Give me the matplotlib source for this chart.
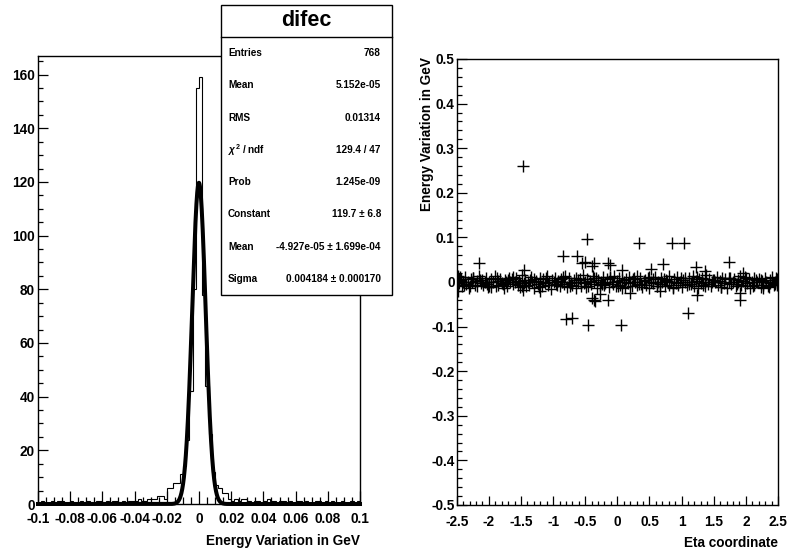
import numpy as np
import matplotlib
matplotlib.use("Agg")
import matplotlib.pyplot as plt
from matplotlib.ticker import MultipleLocator, AutoMinorLocator, FuncFormatter
from matplotlib.patches import Rectangle
from matplotlib.lines import Line2D

plt.rcParams['font.family'] = ['Liberation Sans', 'DejaVu Sans']
plt.rcParams['mathtext.fontset'] = 'custom'
plt.rcParams['mathtext.rm'] = 'Liberation Sans:bold'
plt.rcParams['mathtext.it'] = 'Liberation Sans:italic:bold'

# ---- histogram "difec": 100 bins on [-0.1, 0.1] ----
hist_xmin, hist_xmax = -0.1, 0.1
hist_counts = [
    0, 1, 0, 0, 1, 0, 1, 1, 0, 0,
    1, 0, 0, 1, 0, 1, 0, 0, 1, 1,
    0, 1, 0, 1, 1, 0, 1, 0, 1, 1,
    1, 2, 1, 1, 2, 2, 2, 3, 3, 2,
    6, 6, 8, 8, 11, 14, 24, 42, 80, 155,
    159, 78, 44, 26, 12, 7, 6, 4, 4, 2,
    1, 2, 1, 2, 2, 1, 0, 1, 1, 0,
    1, 2, 1, 1, 0, 1, 1, 0, 1, 0,
    1, 1, 0, 1, 0, 0, 1, 1, 0, 1,
    0, 1, 0, 0, 1, 0, 0, 1, 0, 1,
]

# gaussian fit parameters
fit_constant = 119.7
fit_mean = -4.927e-05
fit_sigma = 0.004184

stat_title = "difec"
stat_labels = ["Entries", "Mean", "RMS", r"$\chi^{2}$ / ndf", "Prob",
               "Constant", "Mean", "Sigma"]
stat_values = ["768", "5.152e-05", "0.01314", "129.4 / 47", "1.245e-09",
               "119.7 \u00b1 6.8", "-4.927e-05 \u00b1 1.699e-04",
               "0.004184 \u00b1 0.000170"]

# ---- energy variation vs eta: core band (eta in 1/100, dE in MeV) ----
band_eta = [
    -248, -246, -243, -241, -240, -237, -235, -232, -231, -228,
    -226, -224, -221, -219, -218, -215, -212, -211, -209, -206,
    -204, -203, -200, -197, -196, -193, -191, -189, -186, -185,
    -182, -180, -177, -175, -174, -171, -168, -167, -164, -162,
    -160, -158, -155, -153, -151, -149, -146, -144, -142, -139,
    -138, -135, -133, -130, -129, -126, -124, -121, -120, -117,
    -115, -112, -110, -108, -106, -103, -101, -99, -97, -94,
    -93, -90, -87, -86, -83, -81, -79, -76, -75, -72,
    -70, -67, -65, -64, -61, -58, -57, -54, -52, -50,
    -47, -45, -43, -41, -38, -36, -34, -31, -30, -27,
    -25, -22, -20, -19, -16, -13, -12, -9, -7, -5,
    -2, 0, 2, 4, 7, 8, 11, 13, 16, 18,
    20, 23, 24, 27, 30, 31, 34, 36, 38, 41,
    43, 45, 48, 49, 52, 55, 56, 59, 61, 63,
    66, 68, 70, 73, 74, 77, 80, 81, 84, 86,
    88, 91, 93, 95, 97, 100, 102, 105, 106, 109,
    111, 114, 116, 118, 120, 123, 125, 127, 130, 131,
    134, 137, 138, 141, 143, 145, 148, 150, 152, 155,
    156, 159, 162, 163, 166, 168, 170, 173, 175, 177,
    180, 181, 184, 187, 188, 191, 193, 195, 198, 200,
    202, 205, 206, 209, 212, 213, 216, 218, 220, 223,
    225, 227, 230, 231, 234, 237, 238, 241, 243, 245,
    246, 248, 249, 250, -247, -239, -225, -199, -170, -152,
    -245, -229, -214, -201, -188, -178, -163, -148, -136, -122,
    -111, -96, -84, -73, -62, -49, -37, -24, -11, 1,
    12, 26, 37, 50, 62, 75, 87, 99, 112, 124,
    136, 149, 161, 174, 186, 199, 211, 224, 236, 247,
]
band_de = [
    4, -3, 7, -9, 1, 12, -4, 0, -13, 6,
    -1, 9, -6, 3, -10, 14, -3, 4, -7, 1,
    10, -4, 0, -12, 6, -1, 13, -9, 3, -6,
    7, -3, -14, 4, 1, -9, 10, -1, 6, -4,
    0, 9, -7, 3, -12, 15, -3, 4, -9, 1,
    -6, 12, -1, 7, -13, 3, -4, 9, 0, -10,
    6, -3, 13, -7, 1, -15, 4, -1, 10, -6,
    3, -9, 7, 0, -4, 14, -12, 1, 9, -3,
    -7, 4, -13, 10, -1, 6, -9, 16, -3, 0,
    7, -10, 3, -4, 13, -1, 9, -14, 4, -6,
    1, 12, -7, -3, 6, -12, 9, 0, -4, 14,
    -9, 3, 10, -6, -13, 4, 0, 7, -3, 12,
    -1, -10, 6, 1, -7, 13, -4, 9, -12, 3,
    4, -6, 10, -14, 0, 7, -3, 12, -9, 1,
    -4, 9, -1, 6, -10, 3, 14, -6, 0, -13,
    7, -3, 12, -7, 1, -12, 4, 10, -1, -6,
    9, -4, 0, 13, -9, 3, -13, 6, -3, 10,
    -7, 1, 15, -4, 7, -10, 0, 4, -1, 12,
    -6, 3, -12, 9, -3, 6, -14, 1, 10, -4,
    0, 7, -9, 4, -1, 13, -6, 3, -10, 9,
    -3, 6, -13, 1, 10, -7, 4, -1, 7, -12,
    3, -6, 9, 0, -9, 4, -3, 12, -7, 1,
    -4, 6, -1, 3, 7, -6, 9, -10, 4, -3,
    11, -8, 5, -11, 8, -5, 11, -8, 5, -11,
    8, -5, 11, -8, 5, -11, 8, -5, 11, -8,
    -11, 8, -5, 11, -8, 5, -11, 8, -5, 11,
    -8, 5, -11, 8, -5, 11, -8, 5, -11, 8,
]

# isolated entries away from the band (eta, GeV)
outlier_eta = [-1.47, -0.47, -2.15, -0.84, -0.63, -0.555, -0.50, -0.40,
               -2.475, -0.80, -0.70, -0.45, -0.40, -0.35, -1.45, -2.475,
               -1.20, -1.47, 0.34, 0.855, 1.03, 1.73, 0.71, 0.53,
               1.22, -0.14, -0.37, -0.11, 0.07, -0.36, -0.14, -0.27,
               0.20, 0.67, 1.245, 1.105, 0.05, 1.91, 1.91, 1.36,
               1.95, 2.27, 2.49]
outlier_de = [0.261, 0.097, 0.043, 0.058, 0.059, 0.043, 0.044, 0.035,
              -0.021, -0.082, -0.080, -0.097, -0.035, -0.043, 0.028, 0.013,
              -0.021, -0.017, 0.088, 0.088, 0.088, 0.045, 0.041, 0.030,
              0.033, 0.043, 0.043, 0.037, 0.028, -0.041, -0.041, -0.026,
              -0.024, -0.021, -0.029, -0.069, -0.097, -0.041, -0.024, 0.024,
              0.021, -0.013, -0.006]

W, H = 789, 551
fig = plt.figure(figsize=(W / 100, H / 100), dpi=100)


def px_rect(x0, y0, x1, y1):
    return [x0 / W, 1 - y1 / H, (x1 - x0) / W, (y1 - y0) / H]


def root_fmt(v, pos):
    if abs(v) < 1e-12:
        return "0"
    return "%g" % round(v, 6)


tick_font = dict(fontsize=9.8, fontweight="bold")

# ---------------- left pad: histogram + fit ----------------
ax1 = fig.add_axes(px_rect(38, 56, 360, 504))
edges = np.linspace(hist_xmin, hist_xmax, len(hist_counts) + 1)
ax1.stairs(hist_counts, edges, color="black", lw=0.8)
xf = np.linspace(hist_xmin, hist_xmax, 2001)
yf = fit_constant * np.exp(-0.5 * ((xf - fit_mean) / fit_sigma) ** 2)
ax1.plot(xf, yf, color="black", lw=2.9, clip_on=False, zorder=3)
ax1.set_xlim(hist_xmin, hist_xmax)
ax1.set_ylim(0, 1.05 * max(hist_counts))
ax1.xaxis.set_major_locator(MultipleLocator(0.02))
ax1.xaxis.set_minor_locator(AutoMinorLocator(4))
ax1.yaxis.set_major_locator(MultipleLocator(20))
ax1.yaxis.set_minor_locator(AutoMinorLocator(4))
ax1.xaxis.set_major_formatter(FuncFormatter(root_fmt))
ax1.yaxis.set_major_formatter(FuncFormatter(root_fmt))
ax1.tick_params(which="both", direction="in", top=False, right=False, width=0.9)
ax1.tick_params(axis="x", which="major", length=9.5, pad=6)
ax1.tick_params(axis="x", which="minor", length=4.8)
ax1.tick_params(axis="y", which="major", length=7.2, pad=2.5)
ax1.tick_params(axis="y", which="minor", length=3.6)
for lab in ax1.get_xticklabels() + ax1.get_yticklabels():
    lab.set_fontsize(9.8)
    lab.set_fontweight("bold")
for s in ax1.spines.values():
    s.set_linewidth(1.0)
fig.text(360 / W, 1 - 541 / H, "Energy Variation in GeV", ha="right",
         va="center", **tick_font)

# ---------------- right pad: scatter ----------------
ax2 = fig.add_axes(px_rect(456.7, 59, 778, 505))
eta_all = np.concatenate([np.array(band_eta) / 100.0, outlier_eta])
de_all = np.concatenate([np.array(band_de) / 1000.0, outlier_de])
ax2.plot(eta_all, de_all, linestyle="none", marker="+", color="black",
         markersize=8.6, markeredgewidth=1.0)
ax2.set_xlim(-2.5, 2.5)
ax2.set_ylim(-0.5, 0.5)
ax2.xaxis.set_major_locator(MultipleLocator(0.5))
ax2.xaxis.set_minor_locator(AutoMinorLocator(5))
ax2.yaxis.set_major_locator(MultipleLocator(0.1))
ax2.yaxis.set_minor_locator(AutoMinorLocator(5))
ax2.xaxis.set_major_formatter(FuncFormatter(root_fmt))
ax2.yaxis.set_major_formatter(FuncFormatter(root_fmt))
ax2.tick_params(which="both", direction="in", top=False, right=False, width=0.9)
ax2.tick_params(axis="x", which="major", length=6.5, pad=7)
ax2.tick_params(axis="x", which="minor", length=3.2)
ax2.tick_params(axis="y", which="major", length=7.2, pad=1.5)
ax2.tick_params(axis="y", which="minor", length=3.6)
for lab in ax2.get_xticklabels() + ax2.get_yticklabels():
    lab.set_fontsize(9.8)
    lab.set_fontweight("bold")
for s in ax2.spines.values():
    s.set_linewidth(1.0)
fig.text(778 / W, 1 - 543 / H, "Eta coordinate", ha="right", va="center",
         **tick_font)
fig.text(427.5 / W, 1 - 57 / H, "Energy Variation in GeV", ha="center",
         va="top", rotation=90, **tick_font)

# ---------------- statistics box ----------------
bx0, by0, bx1, by1 = 221, 5, 392, 295
title_bottom = 37
box = Rectangle((bx0 / W, 1 - by1 / H), (bx1 - bx0) / W, (by1 - by0) / H,
                transform=fig.transFigure, facecolor="white",
                edgecolor="black", lw=1.0, zorder=10)
fig.add_artist(box)
fig.add_artist(Line2D([bx0 / W, bx1 / W], [1 - title_bottom / H] * 2,
                      transform=fig.transFigure, color="black", lw=1.0,
                      zorder=11))
fig.text((bx0 + bx1) / 2 / W, 1 - (by0 + title_bottom) / 2 / H, stat_title,
         ha="center", va="center", fontsize=15.5, fontweight="bold",
         zorder=12)
row_h = (by1 - title_bottom) / len(stat_labels)
for i, (lab, val) in enumerate(zip(stat_labels, stat_values)):
    yy = 1 - (title_bottom + (i + 0.5) * row_h) / H
    fig.text(228 / W, yy, lab, ha="left", va="center", fontsize=7.2,
             fontweight="bold", zorder=12)
    fig.text(381 / W, yy, val, ha="right", va="center", fontsize=7.2,
             fontweight="bold", zorder=12)

fig.savefig("out.png", dpi=100)
